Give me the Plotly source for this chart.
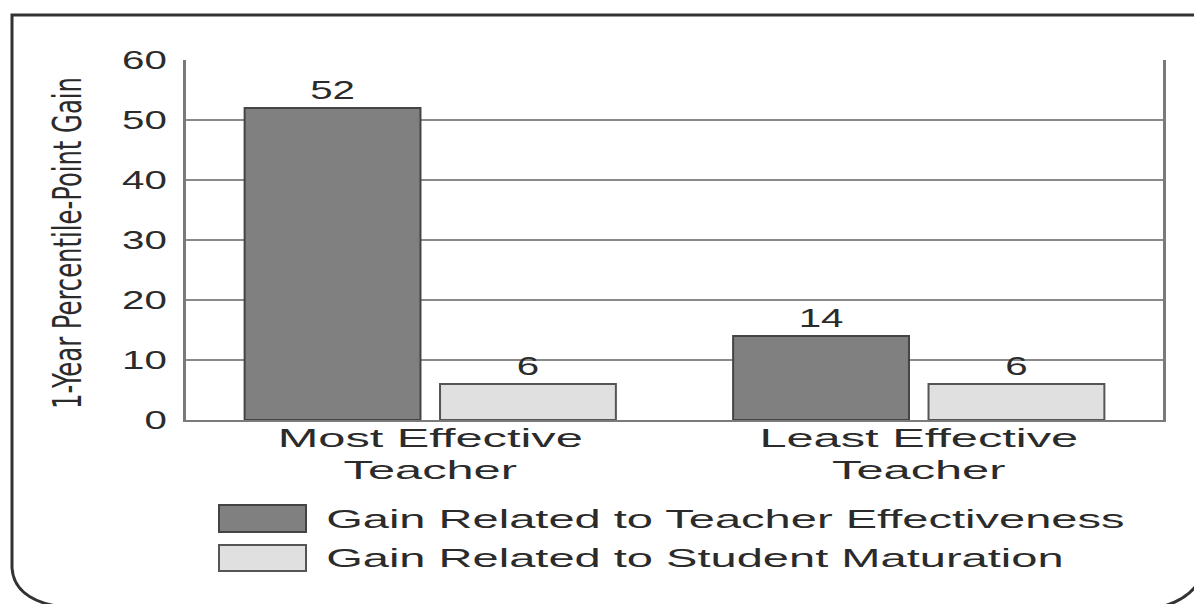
import plotly.graph_objects as go

categories = ["Most Effective<br>Teacher", "Least Effective<br>Teacher"]
series_names = ["Gain Related to Teacher Effectiveness", "Gain Related to Student Maturation"]
teacher_gain = [52, 14]
maturation_gain = [6, 6]
y_ticks = [0, 10, 20, 30, 40, 50, 60]
y_title = "1-Year Percentile-Point Gain"

W, H = 1194, 604
L, R, T, B = 186, 31, 60, 184
PW, PH = W - L - R, H - T - B

def px(x):
    return (x - L) / PW

def py(y):
    return (H - B - y) / PH

TEXT = "#2b2b2b"
FONT = "Liberation Sans, Arial, Helvetica, sans-serif"
DARK = "#808080"
LIGHT = "#e0e0e0"

fig = go.Figure()
fig.add_trace(go.Bar(
    x=categories, y=teacher_gain, name=series_names[0],
    marker=dict(color=DARK, line=dict(color="#444444", width=2)),
    text=[str(v) for v in teacher_gain], textposition="outside",
    textfont=dict(size=26, color=TEXT, family=FONT), cliponaxis=False,
))
fig.add_trace(go.Bar(
    x=categories, y=maturation_gain, name=series_names[1],
    marker=dict(color=LIGHT, line=dict(color="#555555", width=2)),
    text=[str(v) for v in maturation_gain], textposition="outside",
    textfont=dict(size=26, color=TEXT, family=FONT), cliponaxis=False,
))

shapes = []
frame_path = (
    f"M {px(1196)},{py(15)} L {px(12)},{py(15)} L {px(12)},{py(568)} "
    f"Q {px(14)},{py(598)} {px(56)},{py(606)}"
)
shapes.append(dict(type="path", xref="paper", yref="paper", path=frame_path,
                   line=dict(color="#333333", width=3)))
shapes.append(dict(type="path", xref="paper", yref="paper",
                   path=f"M {px(1164)},{py(606)} Q {px(1185)},{py(600)} {px(1196)},{py(586)}",
                   line=dict(color="#333333", width=3)))
shapes.append(dict(type="rect", xref="paper", yref="paper",
                   x0=px(219), x1=px(306), y0=py(505), y1=py(532),
                   fillcolor=DARK, line=dict(color="#444444", width=2)))
shapes.append(dict(type="rect", xref="paper", yref="paper",
                   x0=px(219), x1=px(306), y0=py(545), y1=py(571),
                   fillcolor=LIGHT, line=dict(color="#555555", width=2)))

annotations = [
    dict(text=series_names[0], xref="paper", yref="paper", x=px(324), y=py(519),
         xanchor="left", yanchor="middle", showarrow=False,
         font=dict(size=26, color=TEXT, family=FONT)),
    dict(text=series_names[1], xref="paper", yref="paper", x=px(324), y=py(558),
         xanchor="left", yanchor="middle", showarrow=False,
         font=dict(size=26, color=TEXT, family=FONT)),
    dict(text=y_title, xref="paper", yref="paper", x=px(67), y=py(243),
         xanchor="center", yanchor="middle", textangle=-90, showarrow=False,
         font=dict(size=27, color=TEXT, family="Liberation Sans Narrow, DejaVu Sans Condensed, Arial Narrow, sans-serif")),
]

fig.update_layout(
    width=W, height=H,
    margin=dict(l=L, r=R, t=T, b=B, pad=0),
    paper_bgcolor="white", plot_bgcolor="white",
    barmode="group", bargap=0.2, bargroupgap=0.1,
    showlegend=False,
    shapes=shapes, annotations=annotations,
    xaxis=dict(
        showgrid=False, showline=True, linecolor="#7a7a7a", linewidth=2,
        tickfont=dict(size=25, color=TEXT, family=FONT), ticks="",
    ),
    yaxis=dict(
        range=[0, 60], tickvals=y_ticks, ticktext=[str(v) for v in y_ticks],
        showgrid=True, gridcolor="#8a8a8a", gridwidth=2,
        showline=True, mirror=True, linecolor="#7a7a7a", linewidth=3,
        zeroline=False, ticks="", ticklabelstandoff=11,
        tickfont=dict(size=26, color=TEXT, family=FONT),
    ),
)

post_js = """
document.body.style.margin = '0';
document.body.style.padding = '0';
var NS = 'http://www.w3.org/2000/svg';
document.querySelectorAll('svg.main-svg text').forEach(function(t){
  var content = t.textContent || '';
  if (!content.trim()) return;
  var f, origin, dy = 0, vertical = false;
  if (content.indexOf('Percentile') >= 0) { f = 1.45; origin = 'center'; vertical = true; }
  else if (content.indexOf('Gain Related') === 0) { f = 1.81; origin = 'start'; }
  else if (t.closest('.ytick')) { f = 1.55; origin = 'end'; }
  else if (t.classList.contains('bartext')) { f = 1.55; origin = 'center'; }
  else { f = 1.95; origin = 'center'; dy = -5; }
  var g = document.createElementNS(NS, 'g');
  t.parentNode.insertBefore(g, t);
  g.appendChild(t);
  var bb = g.getBBox();
  if (vertical) {
    var oy = bb.y + bb.height / 2;
    g.setAttribute('transform', 'translate(0,' + oy + ') scale(1,' + f + ') translate(0,' + (-oy) + ')');
  } else {
    var ox = origin === 'start' ? bb.x : (origin === 'end' ? bb.x + bb.width : bb.x + bb.width / 2);
    g.setAttribute('transform', 'translate(' + ox + ',' + dy + ') scale(' + f + ',1) translate(' + (-ox) + ',0)');
  }
});
"""

fig.write_html("out.html", post_script=post_js, config={"displayModeBar": False})
